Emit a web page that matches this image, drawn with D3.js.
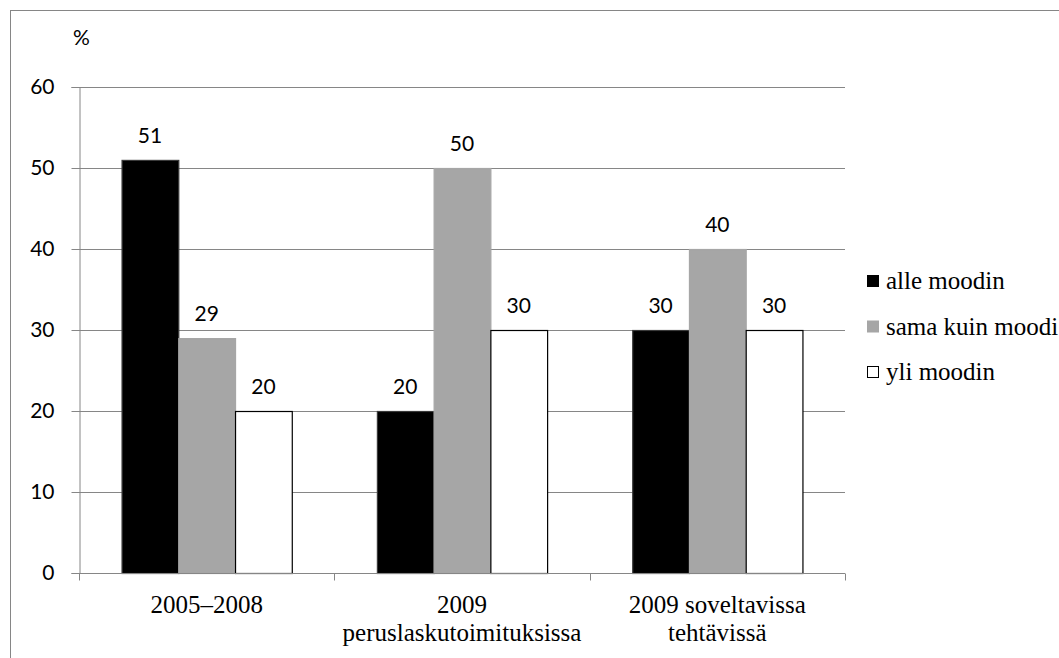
<!DOCTYPE html>
<html>
<head>
<meta charset="utf-8">
<script src="https://cdn.jsdelivr.net/npm/d3@7"></script>
<style>
  html, body { margin: 0; padding: 0; background: #fff; }
  svg { display: block; }
</style>
</head>
<body>
<svg id="chart" width="1059" height="658"></svg>
<script>
// Categories (x-axis); the tick labels wrap onto two lines
const categories = ["2005–2008", "2009 peruslaskutoimituksissa", "2009 soveltavissa tehtävissä"];
const categoryLines = [["2005–2008"], ["2009", "peruslaskutoimituksissa"], ["2009 soveltavissa", "tehtävissä"]];
const seriesNames = ["alle moodin", "sama kuin moodi", "yli moodin"];
const alleMoodin = [51, 20, 30];
const samaKuinMoodi = [29, 50, 40];
const yliMoodin = [20, 30, 30];
const yTicks = [0, 10, 20, 30, 40, 50, 60];

const seriesValues = [alleMoodin, samaKuinMoodi, yliMoodin];
const fills = ["#000000", "#a6a6a6", "#ffffff"];
const strokes = ["#3a3a3a", "#a6a6a6", "#000000"];

const svg = d3.select("#chart");
const sans = "Lato, 'Open Sans', sans-serif";
const serif = "'Liberation Serif', 'Times New Roman', serif";
const axisGrey = "#868686";

// Outer chart frame
svg.append("rect")
  .attr("x", 10.5).attr("y", 10.5)
  .attr("width", 1100).attr("height", 700)
  .attr("fill", "none").attr("stroke", axisGrey).attr("stroke-width", 1);

const plot = { left: 79, right: 845, top: 87, bottom: 573 };

const x = d3.scaleBand()
  .domain(categories)
  .range([plot.left, plot.right])
  .paddingInner(0).paddingOuter(0);

const y = d3.scaleLinear().domain([0, 60]).range([plot.bottom, plot.top]);

// Bar layout inside a category: a gap of 1.5 bar widths split around the group
const barW = x.bandwidth() / 4.5;
const xSeries = d3.scaleBand()
  .domain(seriesNames)
  .range([barW * 0.75, barW * 3.75])
  .padding(0);

// Gridlines
svg.append("g")
  .selectAll("line")
  .data(yTicks.filter(d => d > 0))
  .join("line")
  .attr("x1", plot.left).attr("x2", plot.right)
  .attr("y1", d => Math.round(y(d)) + 0.5).attr("y2", d => Math.round(y(d)) + 0.5)
  .attr("stroke", axisGrey).attr("stroke-width", 1);

// Y axis
const yAxis = svg.append("g")
  .attr("transform", `translate(${plot.left + 0.5},0)`)
  .call(d3.axisLeft(y).tickValues(yTicks).tickSize(8).tickPadding(17));
yAxis.select(".domain").attr("stroke", axisGrey);
yAxis.selectAll(".tick line").attr("stroke", axisGrey);
yAxis.selectAll(".tick text")
  .attr("font-family", sans).attr("font-size", 21).attr("fill", "#000");

// Unit label
svg.append("text")
  .attr("x", 73).attr("y", 45)
  .attr("font-family", sans).attr("font-size", 21)
  .text("%");

// Bars with value labels
const groups = svg.append("g")
  .selectAll("g")
  .data(seriesNames)
  .join("g");

groups.each(function(name, si) {
  const g = d3.select(this);
  g.selectAll("rect")
    .data(seriesValues[si])
    .join("rect")
    .attr("x", (d, ci) => x(categories[ci]) + xSeries(name) + 0.5)
    .attr("y", d => y(d) + 0.5)
    .attr("width", xSeries.bandwidth())
    .attr("height", d => y(0) - y(d))
    .attr("fill", fills[si])
    .attr("stroke", strokes[si])
    .attr("stroke-width", 1.2);

  g.selectAll("text")
    .data(seriesValues[si])
    .join("text")
    .attr("x", (d, ci) => x(categories[ci]) + xSeries(name) + xSeries.bandwidth() / 2)
    .attr("y", d => y(d) - 17)
    .attr("text-anchor", "middle")
    .attr("font-family", sans).attr("font-size", 21)
    .text(d => d);
});

// X axis
const xAxis = svg.append("g")
  .attr("transform", `translate(0,${plot.bottom + 0.5})`);
xAxis.append("line")
  .attr("x1", plot.left).attr("x2", plot.right)
  .attr("stroke", axisGrey);
const tickXs = categories.map(c => x(c)).concat([plot.right]);
xAxis.selectAll("line.tick")
  .data(tickXs)
  .join("line")
  .attr("class", "tick")
  .attr("x1", d => Math.round(d) + 0.5).attr("x2", d => Math.round(d) + 0.5)
  .attr("y1", 0).attr("y2", 7)
  .attr("stroke", axisGrey);

const xLabels = svg.append("g")
  .selectAll("text")
  .data(categories)
  .join("text")
  .attr("text-anchor", "middle")
  .attr("font-family", serif).attr("font-size", 25)
  .attr("x", c => x(c) + x.bandwidth() / 2)
  .attr("y", 613);
xLabels.each(function(c, i) {
  d3.select(this).selectAll("tspan")
    .data(categoryLines[i])
    .join("tspan")
    .attr("x", x(c) + x.bandwidth() / 2)
    .attr("dy", (d, j) => j === 0 ? 0 : 28)
    .text(d => d);
});

// Legend
const legend = svg.append("g").attr("transform", "translate(867,0)");
const legendY = d3.scalePoint().domain(seriesNames).range([281, 372]);
legend.selectAll("rect")
  .data(seriesNames)
  .join("rect")
  .attr("x", 0.5)
  .attr("y", d => legendY(d) - 5.5)
  .attr("width", 11).attr("height", 11)
  .attr("fill", (d, i) => fills[i])
  .attr("stroke", (d, i) => i === 1 ? fills[i] : "#000");
legend.selectAll("text")
  .data(seriesNames)
  .join("text")
  .attr("x", 19)
  .attr("y", d => legendY(d) + 8)
  .attr("font-family", serif).attr("font-size", 25)
  .text(d => d);
</script>
</body>
</html>
